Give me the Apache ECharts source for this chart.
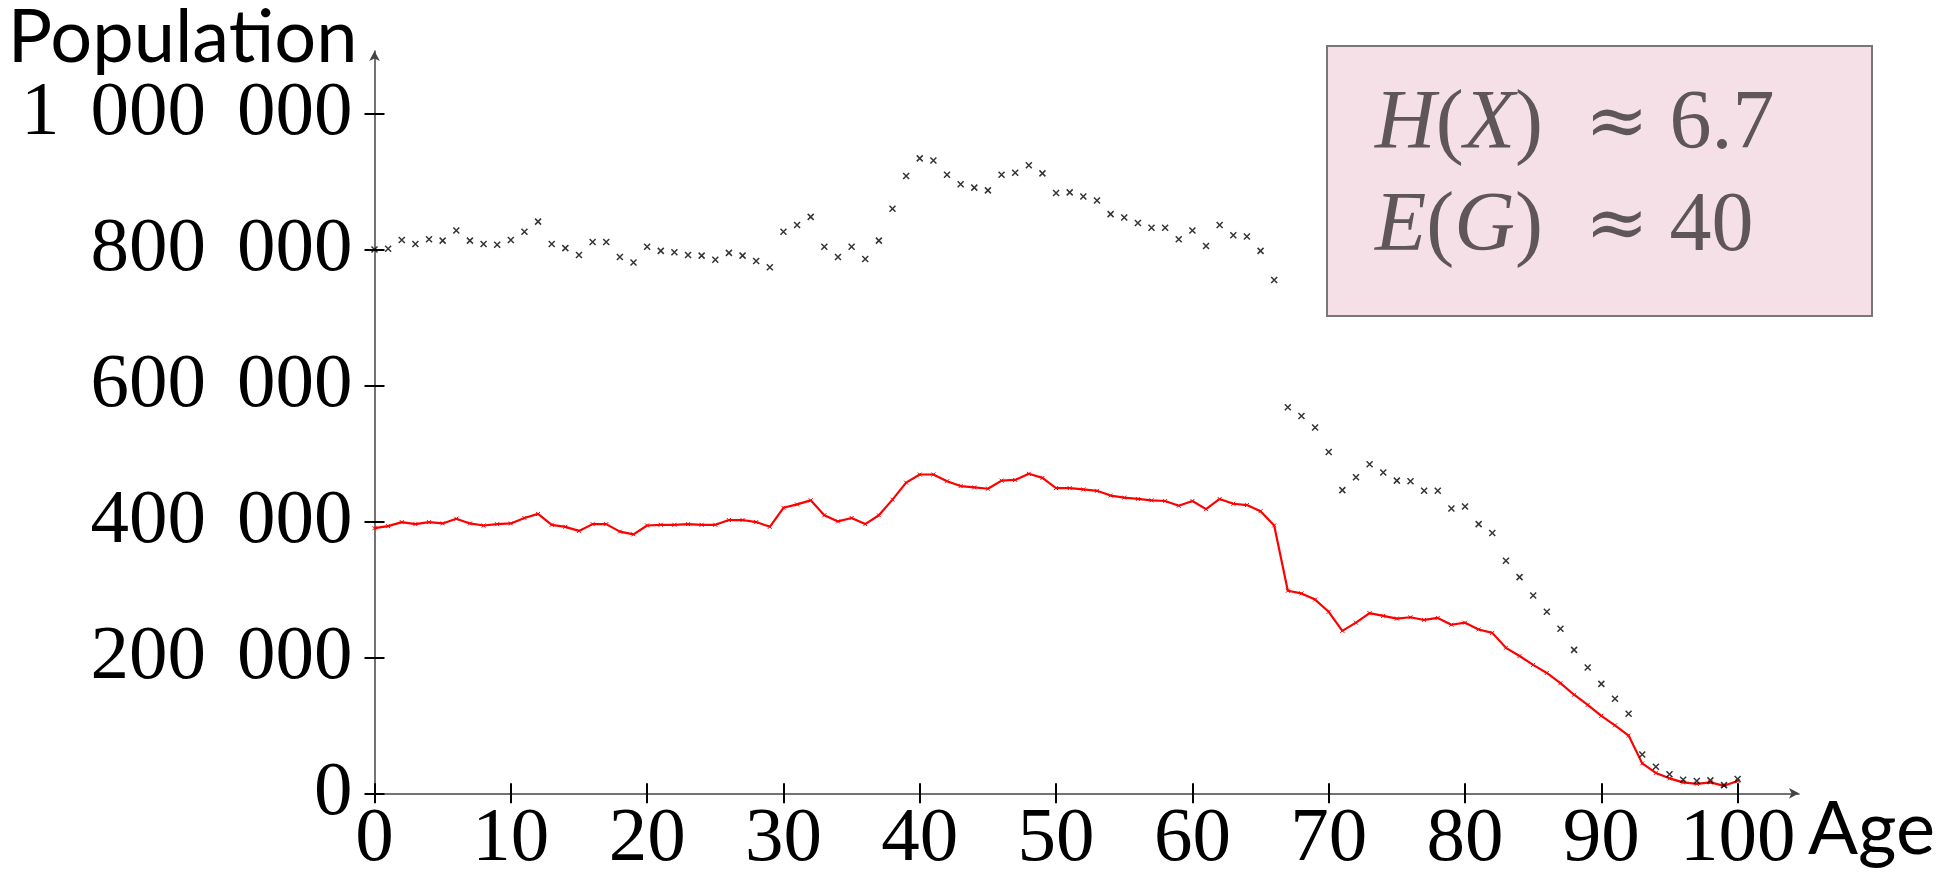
<!DOCTYPE html>
<html>
<head>
<meta charset="utf-8">
<script src="https://cdn.jsdelivr.net/npm/echarts@6/dist/echarts.min.js"></script>
<style>
  html, body { margin: 0; padding: 0; background: #fff; }
  #main { width: 1957px; height: 874px; }
</style>
</head>
<body>
<div id="main"></div>
<script>
// age 0..100 is the index in both arrays
var blackPop = [
  800000, 801000, 814000, 808000, 815000, 813000, 828000, 813000, 808000, 807000,
  814000, 826000, 841000, 808000, 802000, 792000, 811000, 811000, 789000, 781000,
  804000, 798000, 796000, 792000, 791000, 785000, 795000, 791000, 783000, 774000,
  826000, 836000, 848000, 804000, 789000, 804000, 786000, 813000, 860000, 908000,
  934000, 931000, 910000, 896000, 891000, 887000, 910000, 913000, 924000, 912000,
  883000, 884000, 878000, 872000, 852000, 847000, 839000, 832000, 832000, 815000,
  828000, 805000, 836000, 821000, 819000, 798000, 755000, 568000, 555000, 538000,
  502000, 446000, 465000, 484000, 472000, 460000, 459000, 445000, 445000, 419000,
  422000, 396000, 383000, 342000, 318000, 291000, 267000, 242000, 211000, 185000,
  161000, 139000, 117000, 57000, 39000, 28000, 20000, 18000, 19000, 12000,
  21000
];
var redPop = [
  390000, 393000, 399000, 396000, 399000, 397000, 404000, 397000, 394000, 396000,
  397000, 405000, 411000, 395000, 392000, 386000, 396000, 396000, 385000, 381000,
  394000, 395000, 395000, 396000, 395000, 395000, 402000, 402000, 399000, 392000,
  420000, 425000, 431000, 409000, 400000, 405000, 396000, 409000, 432000, 457000,
  469000, 469000, 459000, 452000, 450000, 448000, 460000, 461000, 470000, 464000,
  449000, 449000, 447000, 445000, 438000, 435000, 433000, 431000, 430000, 423000,
  430000, 418000, 433000, 426000, 424000, 415000, 394000, 298000, 294000, 285000,
  267000, 239000, 251000, 265000, 261000, 257000, 259000, 255000, 258000, 248000,
  251000, 241000, 236000, 214000, 202000, 189000, 177000, 162000, 145000, 130000,
  114000, 100000, 85000, 44000, 30000, 22000, 16000, 14000, 16000, 11000,
  18000
];
var xTicks = [0, 10, 20, 30, 40, 50, 60, 70, 80, 90, 100];
var yTicks = [0, 200000, 400000, 600000, 800000, 1000000];

var chart = echarts.init(document.getElementById('main'));

var crossPath = 'path://M0,0L10,10M10,0L0,10';
var serif = '"Liberation Serif", "DejaVu Serif", serif';
var sans = 'Lato, "Noto Sans", sans-serif';

// 1000000 -> "1 000 000", the gap is a fixed-width rich token
function fmt(v) {
  return String(v).replace(/\B(?=(\d{3})+(?!\d))/g, '{g| }');
}

function xAx(inner) {
  return {
    type: 'value', min: 0, max: 104.5, position: 'bottom',
    splitLine: { show: false },
    axisLine: inner ? { show: false } : {
      show: true, onZero: false,
      symbol: ['none', 'arrow'], symbolSize: [8, 10],
      lineStyle: { color: '#444', width: 1.5 }
    },
    axisTick: { show: true, inside: inner, length: 10, customValues: xTicks,
      lineStyle: { color: '#000', width: 2 } },
    axisLabel: inner ? { show: false } : {
      customValues: xTicks, margin: 8,
      fontFamily: serif, fontSize: 77, color: '#000'
    },
    name: inner ? '' : 'Age', nameLocation: 'end', nameGap: 9,
    nameTextStyle: { fontFamily: sans, fontSize: 74, color: '#000',
      align: 'left', verticalAlign: 'top' }
  };
}

function yAx(inner) {
  return {
    type: 'value', min: 0, max: 1092000, position: 'left',
    splitLine: { show: false },
    axisLine: inner ? { show: false } : {
      show: true, onZero: false,
      symbol: ['none', 'arrow'], symbolSize: [8, 10],
      lineStyle: { color: '#444', width: 1.5 }
    },
    axisTick: { show: true, inside: inner, length: 10, customValues: yTicks,
      lineStyle: { color: '#000', width: 2 } },
    axisLabel: inner ? { show: false } : {
      customValues: yTicks, margin: 22, formatter: fmt,
      fontFamily: serif, fontSize: 77, color: '#000',
      rich: { g: { width: 31, fontFamily: serif, fontSize: 77 } }
    },
    name: inner ? '' : 'Population', nameLocation: 'end', nameGap: 8,
    nameTextStyle: { fontFamily: sans, fontSize: 74, color: '#000',
      align: 'right', verticalAlign: 'middle', padding: [0, 17, 0, 0] }
  };
}

var boxText = {
  font: '84px "Liberation Serif", serif', fill: '#5f5659',
  verticalAlign: 'middle',
  rich: {
    i: { fontStyle: 'italic', fontFamily: serif, fontSize: 84, lineHeight: 90, fill: '#5f5659' },
    n: { fontFamily: serif, fontSize: 84, lineHeight: 90, fill: '#5f5659' },
    m: { fontFamily: '"DejaVu Serif", serif', fontSize: 76, lineHeight: 90, fill: '#5f5659' }
  }
};

var option = {
  backgroundColor: '#fff',
  animation: false,
  grid: { left: 374.5, top: 51, width: 1424.5, height: 742.3, outerBoundsMode: 'none' },
  xAxis: [xAx(false), xAx(true)],
  yAxis: [yAx(false), yAx(true)],
  series: [
    {
      name: 'black',
      type: 'scatter',
      data: blackPop.map(function (v, i) { return [i, v]; }),
      symbol: crossPath,
      symbolSize: 6,
      itemStyle: { color: '#000', borderColor: '#000', borderWidth: 1.5 },
      z: 3
    },
    {
      name: 'red',
      type: 'line',
      data: redPop.map(function (v, i) { return [i, v]; }),
      showSymbol: true,
      symbol: crossPath,
      symbolSize: 4,
      itemStyle: { color: '#ff0000', borderColor: '#ff0000', borderWidth: 1 },
      lineStyle: { color: '#ff0000', width: 2.2 },
      z: 2
    }
  ],
  graphic: [
    {
      type: 'rect',
      shape: { x: 1327, y: 46, width: 545, height: 270 },
      style: { fill: '#f6e0e8', stroke: '#777', lineWidth: 2 }
    },
    {
      type: 'text', x: 1375, y: 126,
      style: Object.assign({ text: '{i|H}{n|(}{i|X}{n|)\u2002}{m|≈}{n| 6.7}' }, boxText)
    },
    {
      type: 'text', x: 1375, y: 228,
      style: Object.assign({ text: '{i|E}{n|(}{i|G}{n|)\u2002}{m|≈}{n| 40}' }, boxText)
    }
  ]
};

chart.setOption(option);
</script>
</body>
</html>
